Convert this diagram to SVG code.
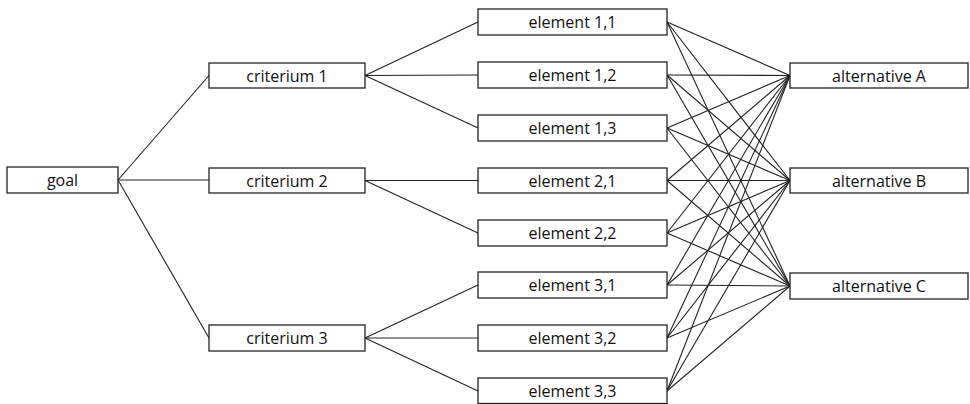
<svg xmlns="http://www.w3.org/2000/svg" width="970" height="404" viewBox="0 0 970 404">
<style>
.box{fill:#fff;stroke:#222;stroke-width:1.3}
.lbl{font-family:"Open Sans","Liberation Sans",sans-serif;font-size:16px;fill:#111;text-anchor:middle;dominant-baseline:central}
.c line{stroke:#222;stroke-width:1.1}
</style>
<rect width="970" height="404" fill="#fff"/>
<g class="c" id="connectors">
<line x1="118" y1="180" x2="209" y2="75.5"/>
<line x1="118" y1="180" x2="209" y2="180"/>
<line x1="118" y1="180" x2="209" y2="338"/>
<line x1="365" y1="75.5" x2="478" y2="22"/>
<line x1="365" y1="75.5" x2="478" y2="75"/>
<line x1="365" y1="75.5" x2="478" y2="128"/>
<line x1="365" y1="180.5" x2="478" y2="180.5"/>
<line x1="365" y1="180.5" x2="478" y2="233"/>
<line x1="365" y1="338" x2="478" y2="285"/>
<line x1="365" y1="338" x2="478" y2="338"/>
<line x1="365" y1="338" x2="478" y2="391"/>
<line x1="667" y1="22" x2="790" y2="75.5"/><line x1="667" y1="22" x2="790" y2="180.5"/><line x1="667" y1="22" x2="790" y2="286"/>
<line x1="667" y1="75" x2="790" y2="75.5"/><line x1="667" y1="75" x2="790" y2="180.5"/><line x1="667" y1="75" x2="790" y2="286"/>
<line x1="667" y1="128" x2="790" y2="75.5"/><line x1="667" y1="128" x2="790" y2="180.5"/><line x1="667" y1="128" x2="790" y2="286"/>
<line x1="667" y1="180.5" x2="790" y2="75.5"/><line x1="667" y1="180.5" x2="790" y2="180.5"/><line x1="667" y1="180.5" x2="790" y2="286"/>
<line x1="667" y1="233" x2="790" y2="75.5"/><line x1="667" y1="233" x2="790" y2="180.5"/><line x1="667" y1="233" x2="790" y2="286"/>
<line x1="667" y1="285" x2="790" y2="75.5"/><line x1="667" y1="285" x2="790" y2="180.5"/><line x1="667" y1="285" x2="790" y2="286"/>
<line x1="667" y1="338" x2="790" y2="75.5"/><line x1="667" y1="338" x2="790" y2="180.5"/><line x1="667" y1="338" x2="790" y2="286"/>
<line x1="667" y1="391" x2="790" y2="75.5"/><line x1="667" y1="391" x2="790" y2="180.5"/><line x1="667" y1="391" x2="790" y2="286"/>
</g>
<g id="goal"><rect class="box" x="7" y="167" width="111" height="26"/><text class="lbl" x="62.5" y="180">goal</text></g>
<g id="criterium1"><rect class="box" x="209" y="63" width="156" height="25"/><text class="lbl" x="287" y="75.5">criterium 1</text></g>
<g id="criterium2"><rect class="box" x="209" y="168" width="156" height="25"/><text class="lbl" x="287" y="180.5">criterium 2</text></g>
<g id="criterium3"><rect class="box" x="209" y="325" width="156" height="26"/><text class="lbl" x="287" y="338">criterium 3</text></g>
<g id="e11"><rect class="box" x="478" y="9" width="189" height="26"/><text class="lbl" x="572.5" y="22">element 1,1</text></g>
<g id="e12"><rect class="box" x="478" y="62" width="189" height="26"/><text class="lbl" x="572.5" y="75">element 1,2</text></g>
<g id="e13"><rect class="box" x="478" y="115" width="189" height="26"/><text class="lbl" x="572.5" y="128">element 1,3</text></g>
<g id="e21"><rect class="box" x="478" y="168" width="189" height="25"/><text class="lbl" x="572.5" y="180.5">element 2,1</text></g>
<g id="e22"><rect class="box" x="478" y="220" width="189" height="26"/><text class="lbl" x="572.5" y="233">element 2,2</text></g>
<g id="e31"><rect class="box" x="478" y="272" width="189" height="26"/><text class="lbl" x="572.5" y="285">element 3,1</text></g>
<g id="e32"><rect class="box" x="478" y="325" width="189" height="26"/><text class="lbl" x="572.5" y="338">element 3,2</text></g>
<g id="e33"><rect class="box" x="478" y="378" width="189" height="25.5"/><text class="lbl" x="572.5" y="391">element 3,3</text></g>
<g id="altA"><rect class="box" x="790" y="63" width="178" height="25"/><text class="lbl" x="879" y="75.5">alternative A</text></g>
<g id="altB"><rect class="box" x="790" y="168" width="178" height="25"/><text class="lbl" x="879" y="180.5">alternative B</text></g>
<g id="altC"><rect class="box" x="790" y="273" width="178" height="26"/><text class="lbl" x="879" y="286">alternative C</text></g>
</svg>
